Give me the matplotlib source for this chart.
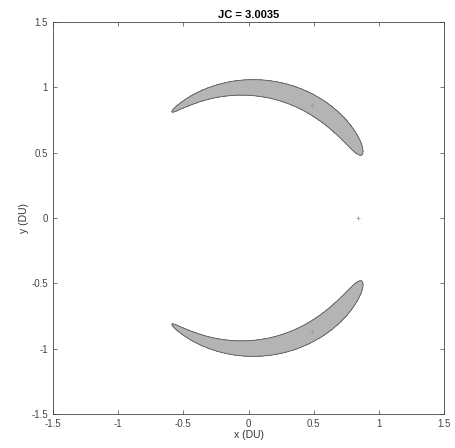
import numpy as np
import matplotlib
matplotlib.use("Agg")
import matplotlib.pyplot as plt

# CR3BP parameters (Earth-Moon)
mu = 0.01215
JC = 3.0035
x_lim = [-1.5, 1.5]
y_lim = [-1.5, 1.5]
ticks = [-1.5, -1, -0.5, 0, 0.5, 1, 1.5]
tick_labels = ["-1.5", "-1", "-0.5", "0", "0.5", "1", "1.5"]
lagrange_x = [0.8369, 0.5 - 0.01215, 0.5 - 0.01215]
lagrange_y = [0.0, 0.8660, -0.8660]

plt.rcParams['font.family'] = ['Liberation Sans', 'DejaVu Sans']

fig = plt.figure(figsize=(4.55, 4.48), dpi=100)
ax = fig.add_axes([53/455, 1 - 414/448, 391/455, 392/448])

xs = np.linspace(x_lim[0], x_lim[1], 900)
ys = np.linspace(y_lim[0], y_lim[1], 900)
X, Y = np.meshgrid(xs, ys)
r1 = np.sqrt((X + mu)**2 + Y**2)
r2 = np.sqrt((X - 1 + mu)**2 + Y**2)
U2 = X**2 + Y**2 + 2*(1 - mu)/r1 + 2*mu/r2

ax.contourf(X, Y, U2, levels=[0, JC], colors=['#b4b4b4'])
ax.contour(X, Y, U2, levels=[JC], colors=['#5a5a5a'], linewidths=0.6)
ax.plot(lagrange_x, lagrange_y, linestyle='none', marker='+', ms=3,
        color='#9a9a9a', mew=0.6)

ax.set_xlim(x_lim)
ax.set_ylim(y_lim)
ax.set_xticks(ticks)
ax.set_xticklabels(tick_labels)
ax.set_yticks(ticks)
ax.set_yticklabels(tick_labels)
ax.tick_params(direction='in', top=True, right=True, labelsize=7,
               colors='#444444', length=3, width=0.5)
for s in ax.spines.values():
    s.set_color('#444444')
    s.set_linewidth(0.6)
ax.set_xlabel('x (DU)', fontsize=7.5, color='#333333', labelpad=1)
ax.set_ylabel('y (DU)', fontsize=7.5, color='#333333', labelpad=2)
ax.set_title('JC = 3.0035', fontsize=8, fontweight='bold', pad=3)

fig.savefig('out.png', dpi=100)
